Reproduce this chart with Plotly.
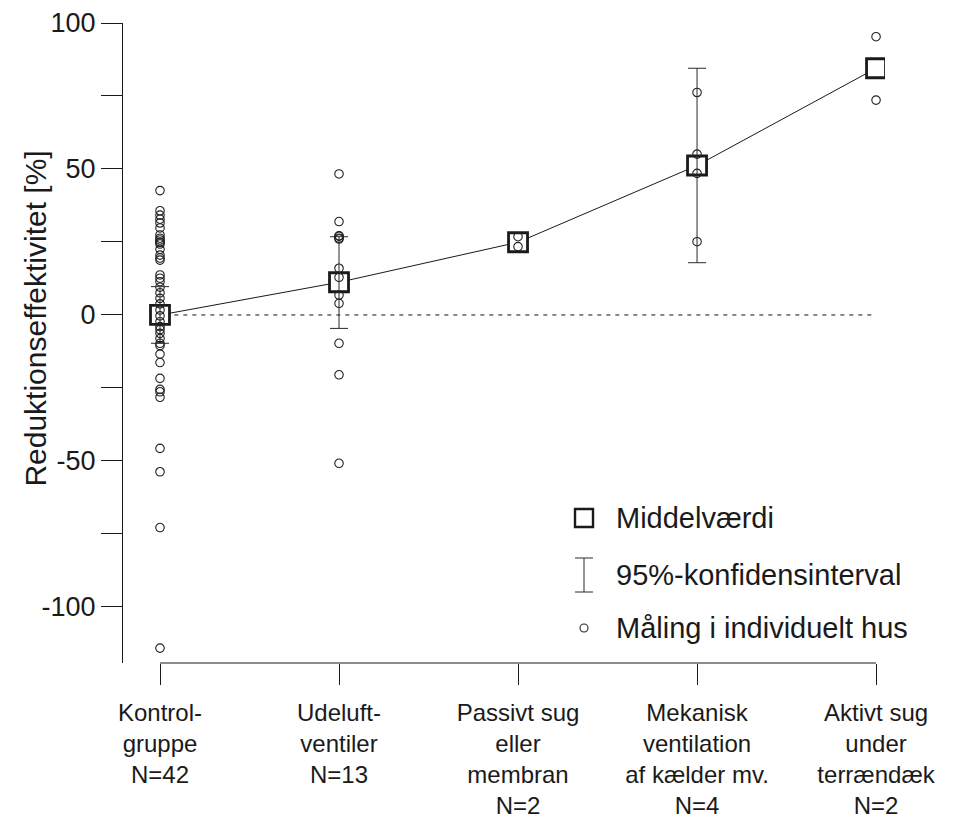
import plotly.graph_objects as go

# ---- data ----
categories = ["Kontrol-<br>gruppe", "Udeluft-<br>ventiler", "Passivt sug<br>eller<br>membran",
              "Mekanisk<br>ventilation<br>af kælder mv.", "Aktivt sug<br>under<br>terrændæk"]
n_labels = ["N=42", "N=13", "N=2", "N=4", "N=2"]

kontrol = [42.6, 35.7, 34.2, 32.8, 31.5, 29.8, 27.4, 26.3, 25.7, 25.0, 24.8, 24.3, 22.5, 20.5,
           19.5, 18.8, 13.7, 12.6, 11.4, 9.5, 7.6, 5.7, 3.8, 1.7, -0.3, -2.3, -4.0, -5.0, -6.3,
           -8.0, -9.7, -10.5, -13.4, -16.3, -21.7, -25.5, -26.3, -28.2, -45.7, -53.7, -72.8, -114.1]
udeluft = [48.3, 32.0, 27.1, 27.0, 26.3, 26.0, 16.0, 12.9, 6.8, 4.0, -9.7, -20.5, -50.8]
passivt = [26.8, 23.4]
mekanisk = [76.2, 55.1, 48.5, 25.1]
aktivt = [95.3, 73.6]

means = [0.0, 11.2, 24.9, 51.2, 84.5]
ci_low = [-9.7, -4.6, None, 17.9, None]
ci_high = [9.7, 26.8, None, 84.5, None]

y_ticks = [-100, -75, -50, -25, 0, 25, 50, 75, 100]
y_ticktext = ["-100", "", "-50", "", "0", "", "50", "", "100"]

legend_labels = ["Middelværdi", "95%-konfidensinterval", "Måling i individuelt hus"]

FONT = "Liberation Sans, Arial, Helvetica, sans-serif"
INK = "#1a1a1a"

groups = [kontrol, udeluft, passivt, mekanisk, aktivt]
idx = list(range(len(categories)))

fig = go.Figure()

# line connecting means
fig.add_trace(go.Scatter(x=idx, y=means, mode="lines",
                         line=dict(color=INK, width=1), showlegend=False, hoverinfo="skip"))
# mean squares (white filled)
fig.add_trace(go.Scatter(x=idx, y=means, mode="markers",
                         marker=dict(symbol="square", size=19, color="white",
                                     line=dict(color=INK, width=2.8)),
                         showlegend=False))
# confidence intervals
ci_x = [i for i in idx if ci_low[i] is not None]
ci_m = [means[i] for i in ci_x]
fig.add_trace(go.Scatter(
    x=ci_x, y=ci_m, mode="markers",
    marker=dict(size=1, color="rgba(0,0,0,0)"),
    error_y=dict(type="data", symmetric=False,
                 array=[ci_high[i] - means[i] for i in ci_x],
                 arrayminus=[means[i] - ci_low[i] for i in ci_x],
                 color="#2a2a2a", thickness=1, width=9),
    showlegend=False))
# individual measurements
px_, py_ = [], []
for i, g in zip(idx, groups):
    px_ += [i] * len(g)
    py_ += g
fig.add_trace(go.Scatter(x=px_, y=py_, mode="markers",
                         marker=dict(symbol="circle-open", size=8.5, color="#222222",
                                     line=dict(width=1.1)),
                         showlegend=False))

shapes = [
    # x-axis line spanning categories only
    dict(type="line", xref="x", yref="paper", x0=0, x1=4, y0=0, y1=0,
         line=dict(color=INK, width=1)),
    # dashed zero line
    dict(type="line", xref="x", yref="y", x0=0.08, x1=4, y0=0, y1=0,
         line=dict(color="#111111", width=1, dash="4px,5px"), layer="below"),
]

# manual legend (paper anchors, pixel sizes)
lx = 0.605
ly = [0.2266, 0.1375, 0.0547]
shapes.append(dict(type="rect", xref="paper", yref="paper", xsizemode="pixel", ysizemode="pixel",
                   xanchor=lx, yanchor=ly[0], x0=-9, x1=9, y0=-9, y1=9,
                   line=dict(color=INK, width=2.4), fillcolor="white"))
for (x0, y0, x1, y1) in [(0, -17, 0, 17), (-9, -17, 9, -17), (-9, 17, 9, 17)]:
    shapes.append(dict(type="line", xref="paper", yref="paper", xsizemode="pixel", ysizemode="pixel",
                       xanchor=lx, yanchor=ly[1], x0=x0, x1=x1, y0=y0, y1=y1,
                       line=dict(color="#2a2a2a", width=1)))
shapes.append(dict(type="circle", xref="paper", yref="paper", xsizemode="pixel", ysizemode="pixel",
                   xanchor=lx, yanchor=ly[2], x0=-4, x1=4, y0=-4, y1=4,
                   line=dict(color="#222222", width=1.1)))

annotations = []
for lab, yy in zip(legend_labels, ly):
    annotations.append(dict(text=lab, xref="paper", yref="paper", x=0.645, y=yy,
                            xanchor="left", yanchor="middle", showarrow=False,
                            font=dict(family=FONT, size=29, color=INK)))
annotations.append(dict(text="Reduktionseffektivitet [%]", xref="paper", yref="paper",
                        x=-0.116, y=0.5375, textangle=-90, showarrow=False,
                        xanchor="center", yanchor="middle",
                        font=dict(family=FONT, size=30, color=INK)))

fig.update_layout(
    width=961, height=827,
    margin=dict(l=123, r=76, t=23, b=164, autoexpand=False),
    paper_bgcolor="white", plot_bgcolor="white",
    showlegend=False,
    shapes=shapes, annotations=annotations,
    font=dict(family=FONT, color=INK),
    xaxis=dict(range=[-0.2067, 4.05], tickvals=idx,
               ticktext=[c + "<br>" + n for c, n in zip(categories, n_labels)],
               ticks="outside", ticklen=21, tickcolor=INK, tickwidth=1,
               ticklabelstandoff=7,
               showline=False, showgrid=False, zeroline=False, automargin=False,
               tickfont=dict(family=FONT, size=24, color=INK)),
    yaxis=dict(range=[-119.2, 100], tickvals=y_ticks, ticktext=y_ticktext,
               ticks="outside", ticklen=21, tickcolor=INK, tickwidth=1,
               showline=True, linecolor=INK, linewidth=1, automargin=False,
               showgrid=False, zeroline=False,
               tickfont=dict(family=FONT, size=27, color=INK)),
)

fig.write_html("out.html", config={"displayModeBar": False},
               post_script="document.body.style.margin='0px';document.body.style.overflow='hidden';")
